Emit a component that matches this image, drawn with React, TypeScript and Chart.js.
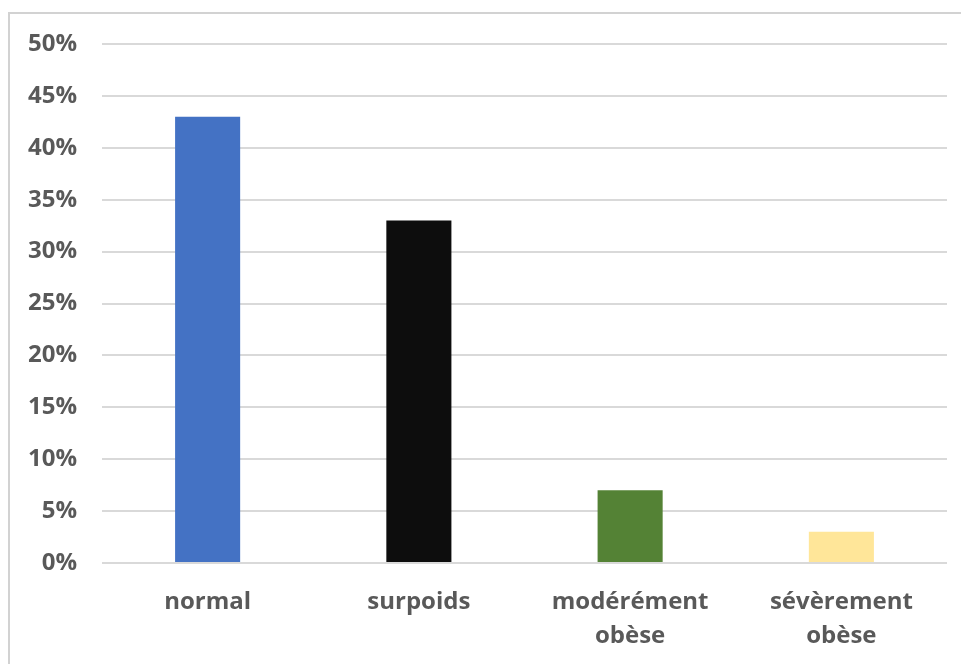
import React, { useEffect, useRef } from "react";
import { Chart, registerables } from "chart.js";

Chart.register(...registerables);

// Weight status distribution
const categories: (string | string[])[] = [
  "normal",
  "surpoids",
  ["modérément", "obèse"],
  ["sévèrement", "obèse"],
];
const shares = [43, 33, 7, 3];
const barColors = ["#4472C4", "#0D0D0D", "#548235", "#FFE699"];
const yMax = 50;
const yStep = 5;

const FONT = "'Open Sans', 'DejaVu Sans', sans-serif";

export default function App() {
  const canvasRef = useRef<HTMLCanvasElement | null>(null);

  useEffect(() => {
    if (!canvasRef.current) return;
    const chart = new Chart(canvasRef.current, {
      type: "bar",
      data: {
        labels: categories,
        datasets: [
          {
            data: shares,
            backgroundColor: barColors,
            borderWidth: 0,
            categoryPercentage: 1,
            barPercentage: 0.308,
          },
        ],
      },
      options: {
        animation: false,
        responsive: false,
        maintainAspectRatio: false,
        layout: { padding: { left: 0, right: 14, top: 44, bottom: 0 } },
        plugins: {
          legend: { display: false },
          tooltip: { enabled: false },
        },
        scales: {
          x: {
            grid: { display: false, drawTicks: false },
            border: { display: false },
            ticks: {
              color: "#595959",
              padding: 22,
              font: { family: FONT, size: 24, weight: "bold", lineHeight: 1.42 },
              maxRotation: 0,
              autoSkip: false,
            },
            afterFit: (scale: any) => {
              scale.height = 101;
            },
          },
          y: {
            min: 0,
            max: yMax,
            grid: { color: "#d9d9d9", lineWidth: 2, drawTicks: false },
            border: { display: false },
            ticks: {
              stepSize: yStep,
              color: "#595959",
              padding: 25,
              font: { family: FONT, size: 24, weight: "bold" },
              callback: (v: any) => `${v}%`,
            },
            afterFit: (scale: any) => {
              scale.width = 102;
            },
          },
        },
      },
    });
    return () => chart.destroy();
  }, []);

  return (
    <div
      style={{
        position: "fixed",
        left: 0,
        top: 0,
        width: 961,
        height: 664,
        background: "#ffffff",
        overflow: "hidden",
      }}
    >
      <div
        style={{
          position: "absolute",
          left: 8,
          top: 12,
          width: 980,
          height: 700,
          border: "2px solid #d2d2d2",
          boxSizing: "border-box",
        }}
      />
      <canvas
        ref={canvasRef}
        width={961}
        height={664}
        style={{ position: "absolute", left: 0, top: 0 }}
      />
    </div>
  );
}
